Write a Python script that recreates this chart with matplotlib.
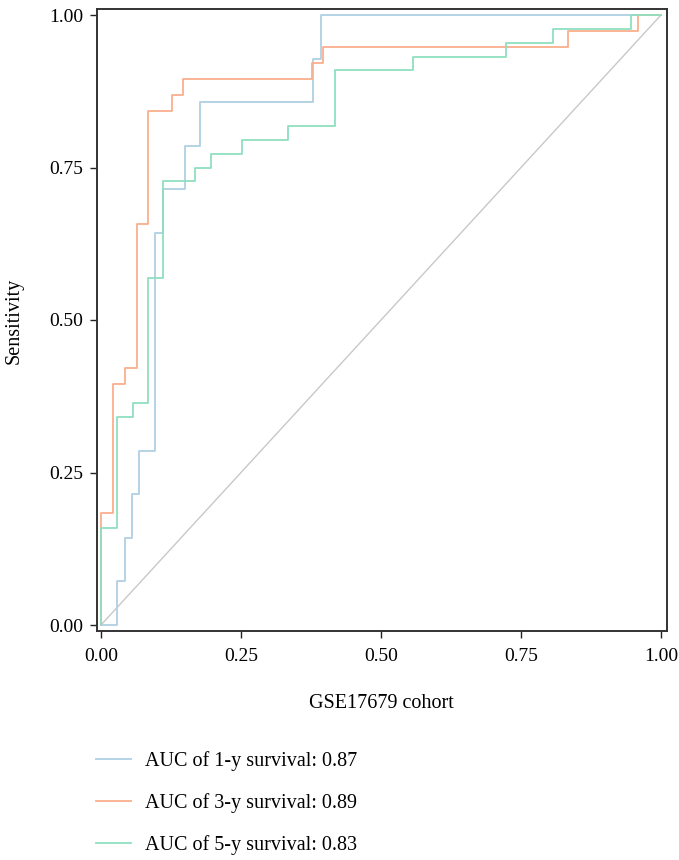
import numpy as np
import matplotlib.pyplot as plt

plt.rcParams['font.family'] = ['Liberation Serif', 'DejaVu Serif']

# ROC step points (false positive rate, sensitivity)
fpr_1y = [0.0, 0.028, 0.042, 0.055, 0.068, 0.096, 0.110, 0.150, 0.177, 0.379, 0.393, 1.0]
tpr_1y = [0.0, 1/14, 2/14, 3/14, 4/14, 9/14, 10/14, 11/14, 12/14, 13/14, 1.0, 1.0]

fpr_3y = [0.0, 0.0, 0.022, 0.043, 0.064, 0.084, 0.126, 0.147, 0.376, 0.397, 0.834, 0.959, 1.0]
tpr_3y = [0.0, 7/38, 15/38, 16/38, 25/38, 32/38, 33/38, 34/38, 35/38, 36/38, 37/38, 1.0, 1.0]

fpr_5y = [0.0, 0.0, 0.029, 0.057, 0.084, 0.111, 0.168, 0.196, 0.251, 0.334, 0.418,
          0.557, 0.723, 0.807, 0.946, 1.0]
tpr_5y = [0.0, 7/44, 15/44, 16/44, 25/44, 32/44, 33/44, 34/44, 35/44, 36/44, 40/44,
          41/44, 42/44, 43/44, 1.0, 1.0]

labels = ["AUC of 1-y survival: 0.87",
          "AUC of 3-y survival: 0.89",
          "AUC of 5-y survival: 0.83"]
colors = ["#b0cfe4", "#fbae8c", "#8fdfbf"]

fig = plt.figure(figsize=(6.79, 8.60), dpi=100)
ax = fig.add_axes([97 / 679, 1 - 631 / 860, 570 / 679, 622 / 860])

# reference diagonal
ax.plot([0, 1], [0, 1], color="#c8c8c8", lw=1.0, zorder=1)
lines = []
for fx, ty, c, lab in zip([fpr_1y, fpr_3y, fpr_5y], [tpr_1y, tpr_3y, tpr_5y], colors, labels):
    ln, = ax.step(fx, ty, where="post", color=c, lw=1.3, label=lab, zorder=2)
    lines.append(ln)

ax.set_xlim(-4 / 560, 1 + 6 / 560)
ax.set_ylim(-6 / 610, 1 + 6 / 610)
ticks = [0, 0.25, 0.5, 0.75, 1.0]
ticklabels = ["0.00", "0.25", "0.50", "0.75", "1.00"]
ax.set_xticks(ticks)
ax.set_yticks(ticks)
ax.set_xticklabels(ticklabels)
ax.set_yticklabels(ticklabels)
ax.tick_params(direction="out", length=5, width=1.0, color="#222222", labelsize=14)
ax.tick_params(axis="y", pad=5)
ax.tick_params(axis="x", pad=7.5)
for s in ax.spines.values():
    s.set_color("#333333")
    s.set_linewidth(1.4)

fig.text(381.5 / 679, 1 - 708 / 860, "GSE17679 cohort", ha="center", va="baseline",
         fontsize=14.5)
fig.text(14 / 679, 1 - 321 / 860, "Sensitivity", ha="center", va="center",
         rotation=90, fontsize=14.5)

leg = fig.legend(handles=lines, loc="upper left", bbox_to_anchor=(96 / 679, 1 - 751 / 860),
                 frameon=False, fontsize=14.5, handlelength=1.75, handletextpad=0.7,
                 labelspacing=1.09, borderpad=0, borderaxespad=0)

fig.savefig("out.png", dpi=100)
